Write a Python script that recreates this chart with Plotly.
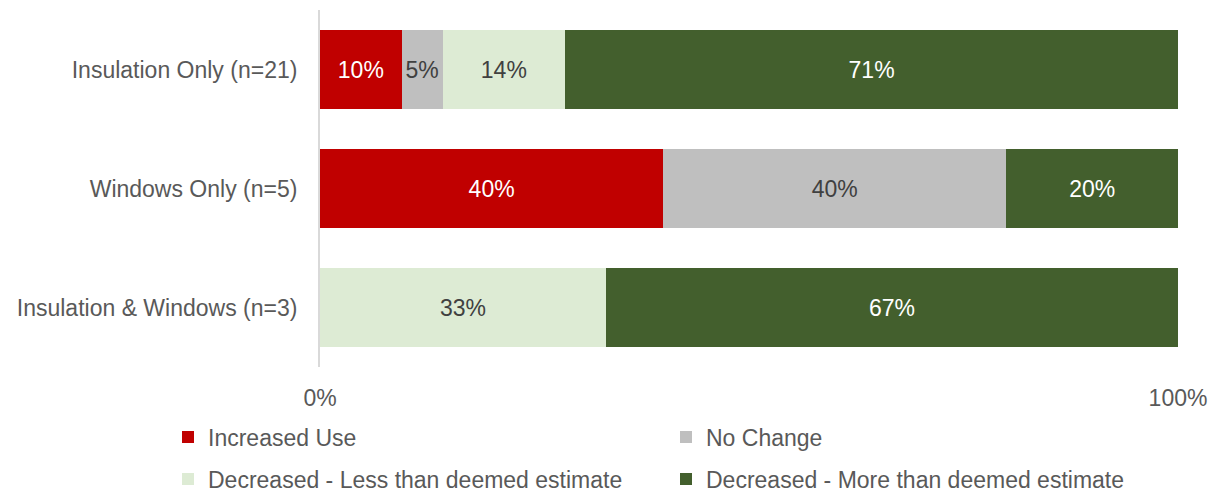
import plotly.graph_objects as go

categories = ["Insulation Only (n=21)", "Windows Only (n=5)", "Insulation & Windows (n=3)"]
series_names = ["Increased Use", "No Change",
                "Decreased - Less than deemed estimate", "Decreased - More than deemed estimate"]
increased_use = [0.0952, 0.40, None]
no_change = [0.0476, 0.40, None]
decreased_less = [0.1429, None, 0.3333]
decreased_more = [0.7143, 0.20, 0.6667]
x_tick_vals = [0, 1]
x_tick_text = ["0%", "100%"]

colors = ["#C00000", "#BFBFBF", "#DDEBD4", "#435F2D"]
text_colors = ["#FFFFFF", "#404040", "#404040", "#FFFFFF"]
legend_ids = ["legend", "legend", "legend2", "legend2"]
FONT = "Liberation Sans, Arial, sans-serif"
FS = 23

fig = go.Figure()
for name, vals, col, tcol, lg in zip(series_names,
                                     [increased_use, no_change, decreased_less, decreased_more],
                                     colors, text_colors, legend_ids):
    fig.add_trace(go.Bar(
        y=categories, x=vals, name=name, orientation="h",
        marker=dict(color=col, line=dict(width=0)),
        texttemplate="%{x:.0%}", textposition="inside", insidetextanchor="middle",
        textangle=0, insidetextfont=dict(color=tcol, size=FS, family=FONT),
        legend=lg, hoverinfo="skip",
    ))

W, H = 1217, 493
ml, mr, mt, mb = 320, 39, 10, 126
pw = W - ml - mr
ph = H - mt - mb

def px_x(p):
    return (p - ml) / pw

def px_y(p):
    return (H - mb - p) / ph

legend_common = dict(orientation="h", entrywidth=453, entrywidthmode="pixels",
                     xanchor="left", yanchor="middle", bgcolor="rgba(0,0,0,0)",
                     font=dict(size=FS, color="#595959", family=FONT),
                     traceorder="normal")

fig.update_layout(
    width=W, height=H,
    margin=dict(l=ml, r=mr, t=mt, b=mb, autoexpand=False),
    barmode="stack", bargap=0.336,
    plot_bgcolor="white", paper_bgcolor="white",
    font=dict(family=FONT, size=FS, color="#595959"),
    showlegend=True,
    legend=dict(x=px_x(168), y=px_y(437), **legend_common),
    legend2=dict(x=px_x(168), y=px_y(479), **legend_common),
    uniformtext=dict(mode=False),
)
fig.update_xaxes(range=[0, 1], tickvals=x_tick_vals, ticktext=x_tick_text,
                 showgrid=False, zeroline=False, showline=False, ticks="",
                 ticklabelstandoff=15,
                 tickfont=dict(size=FS, color="#595959", family=FONT), fixedrange=True)
fig.update_yaxes(categoryorder="array", categoryarray=categories, autorange="reversed",
                 showgrid=False, zeroline=False, showline=True, linecolor="#D9D9D9",
                 linewidth=2, ticks="", ticklabelstandoff=16,
                 tickfont=dict(size=FS, color="#595959", family=FONT), fixedrange=True)

fig.write_html("out.html", config={"displayModeBar": False},
               post_script="document.body.style.margin='0';document.body.style.overflow='hidden';")
